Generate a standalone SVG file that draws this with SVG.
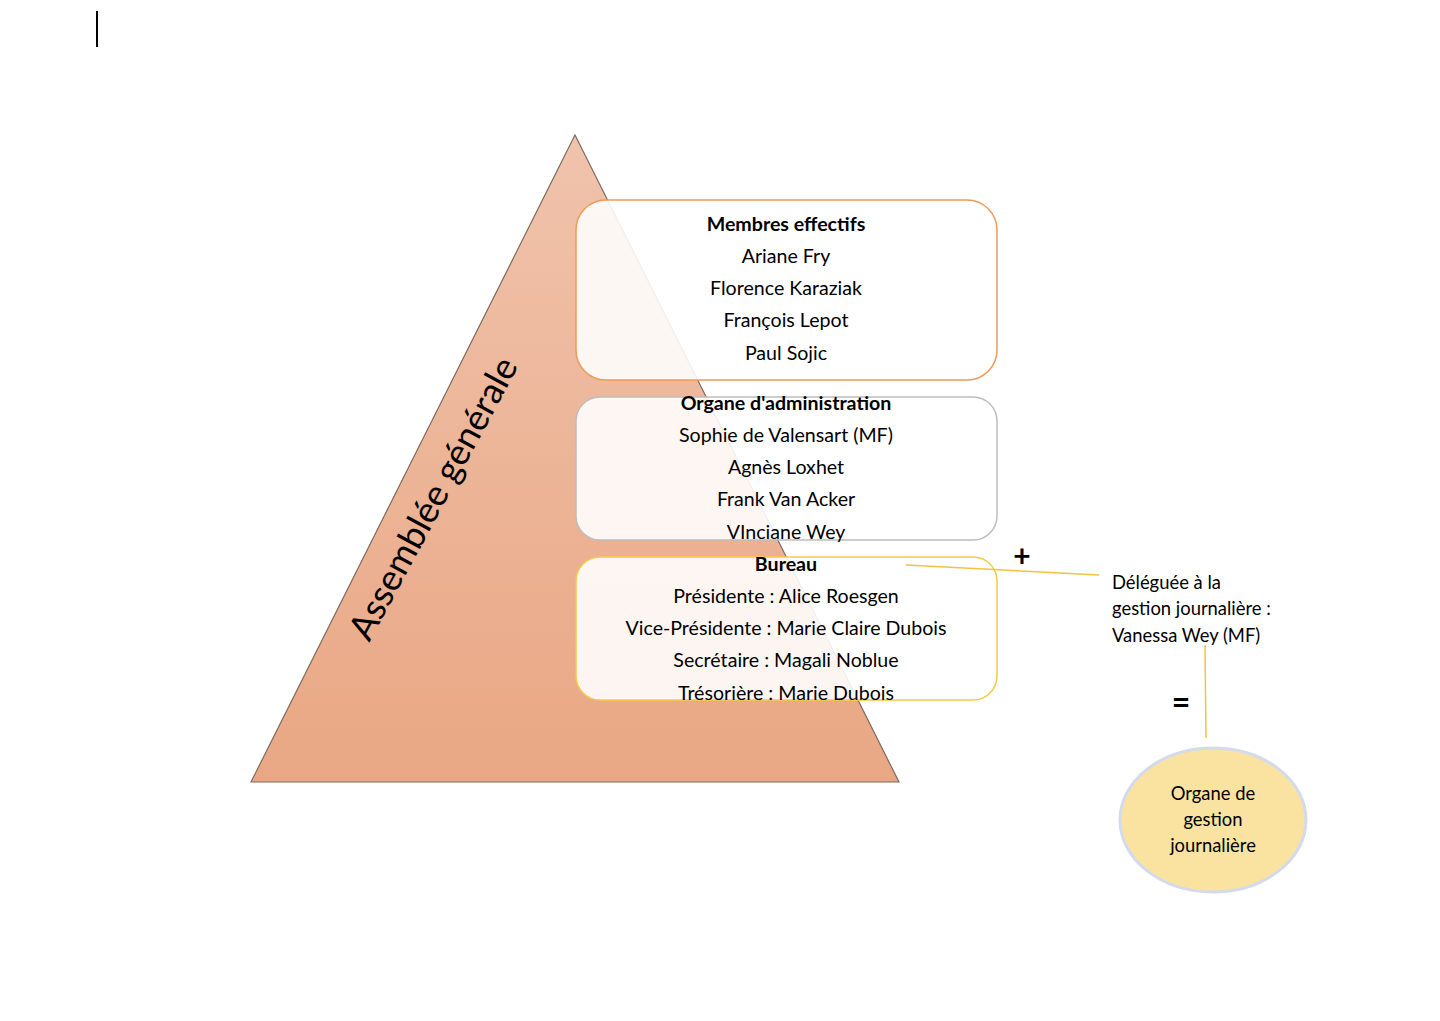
<svg xmlns="http://www.w3.org/2000/svg" width="1440" height="1021" viewBox="0 0 1440 1021">
<defs>
<linearGradient id="tri" x1="0" y1="0" x2="0" y2="1">
<stop offset="0" stop-color="#F0C3AC"/>
<stop offset="1" stop-color="#E9A784"/>
</linearGradient>
<style>
.t{font-family:Lato,"Liberation Sans",sans-serif;font-size:19.6px;fill:#000;text-anchor:middle}
.b{font-weight:bold}
.box{fill:#FFFFFF;fill-opacity:0.88;stroke-width:1.5}
.conn{stroke:#F5C243;stroke-width:1.5;fill:none}
.s{font-family:Lato,"Liberation Sans",sans-serif;font-size:18.4px;fill:#000}
</style>
</defs>
<rect width="1440" height="1021" fill="#fff"/>
<line x1="97" y1="11" x2="97" y2="47" stroke="#000" stroke-width="2"/>
<g id="assemblee">
<polygon points="575,135 251,782 899,782" fill="url(#tri)" stroke="#7f6a5e" stroke-width="1.2"/>
<text class="t" style="font-size:36px" transform="translate(436,500) rotate(-61.6)" dominant-baseline="middle">Assemblée générale</text>
</g>
<g id="membres">
<rect class="box" x="576" y="200" width="421" height="180" rx="30" stroke="#EE9A58"/>
<text class="t b" x="786" y="231">Membres effectifs</text>
<text class="t" x="786" y="263">Ariane Fry</text>
<text class="t" x="786" y="295">Florence Karaziak</text>
<text class="t" x="786" y="327">François Lepot</text>
<text class="t" x="786" y="360">Paul Sojic</text>
</g>
<g id="organe-admin">
<rect class="box" x="576" y="397" width="421" height="143" rx="24" stroke="#BDBDBD"/>
<text class="t b" x="786" y="410">Organe d'administration</text>
<text class="t" x="786" y="442">Sophie de Valensart (MF)</text>
<text class="t" x="786" y="474">Agnès Loxhet</text>
<text class="t" x="786" y="506">Frank Van Acker</text>
<text class="t" x="786" y="539">VInciane Wey</text>
</g>
<g id="bureau">
<rect class="box" x="576" y="557" width="421" height="143" rx="24" stroke="#F7C84E"/>
<text class="t b" x="786" y="571">Bureau</text>
<text class="t" x="786" y="603">Présidente : Alice Roesgen</text>
<text class="t" x="786" y="635">Vice-Présidente : Marie Claire Dubois</text>
<text class="t" x="786" y="667">Secrétaire : Magali Noblue</text>
<text class="t" x="786" y="700">Trésorière : Marie Dubois</text>
</g>
<g id="connectors">
<line class="conn" x1="906" y1="565" x2="1099" y2="575"/>
<line class="conn" x1="1205" y1="645" x2="1206" y2="738"/>
</g>
<g id="plus"><text class="t b" x="1022" y="567" style="font-size:30px">+</text></g>
<g id="deleguee">
<text class="s" x="1112" y="589">Déléguée à la</text>
<text class="s" x="1112" y="615">gestion journalière :</text>
<text class="s" x="1112" y="642">Vanessa Wey (MF)</text>
</g>
<g id="egal"><text class="t b" x="1181" y="714" style="font-size:32px">=</text></g>
<g id="organe-gestion">
<ellipse cx="1213" cy="820" rx="93" ry="72" fill="#FAE3A0" stroke="#D3DAEC" stroke-width="3"/>
<text class="s" x="1213" y="800" text-anchor="middle">Organe de</text>
<text class="s" x="1213" y="826" text-anchor="middle">gestion</text>
<text class="s" x="1213" y="852" text-anchor="middle">journalière</text>
</g>
</svg>
